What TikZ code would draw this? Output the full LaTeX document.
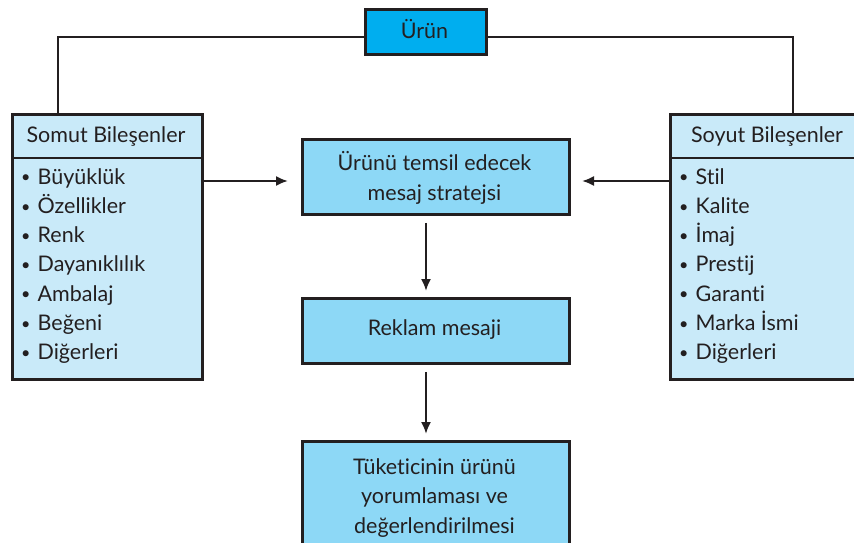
\documentclass[tikz,border=0pt]{standalone}
\usepackage{fontspec}
\setmainfont{Lato}[Ligatures={NoCommon,NoRare}]
\usetikzlibrary{arrows.meta,calc}
\definecolor{ink}{HTML}{231F20}
\definecolor{topc}{HTML}{00AEEF}
\definecolor{midc}{HTML}{8DD8F6}
\definecolor{sidec}{HTML}{C9EAF9}
\newcommand{\mybul}{\raisebox{0.12ex}{\scalebox{0.75}{•}}\hspace{0.33em}}
\tikzset{
  frame/.style={draw=ink, line width=2.8pt, rectangle, inner sep=0pt},
  conn/.style={draw=ink, line width=2pt},
  arr/.style={conn, -{Latex[length=12pt,width=10pt]}},
  txt/.style={font=\fontsize{21.5}{29.3}\selectfont, text=ink, inner sep=0pt},
}
\begin{document}
\begin{tikzpicture}[x=1pt,y=-1pt]
\useasboundingbox (0,0) rectangle (854,543);
% boxes
\node[frame, fill=topc, minimum width=121pt, minimum height=45pt, anchor=north west] (urun) at (364,8) {};
\node[txt, anchor=base] (urunt) at (424.5,39) {Ürün};
\node[frame, fill=sidec, minimum width=190pt, minimum height=265pt, anchor=north west] (somut) at (11,113) {};
\node[frame, fill=sidec, minimum width=190pt, minimum height=265pt, anchor=north west] (soyut) at (669,113) {};
\node[frame, fill=midc, minimum width=267pt, minimum height=75pt, anchor=north west] (strat) at (301,138) {};
\node[frame, fill=midc, minimum width=267pt, minimum height=65pt, anchor=north west] (reklam) at (301,297) {};
\node[frame, fill=midc, minimum width=267pt, minimum height=110pt, anchor=north west] (tuket) at (301,440) {};
% header dividers
\coordinate (sl) at (11,158); \coordinate (sr) at (201,158);
\coordinate (yl) at (669,158); \coordinate (yr) at (859,158);
\draw[ink, line width=2.8pt] (sl) -- (sr);
\draw[ink, line width=2.8pt] (yl) -- (yr);
% texts
\node[txt, anchor=base] (somh) at (106,142) {Somut Bileşenler};
\node[txt, anchor=base] (soyh) at (767,142) {Soyut Bileşenler};
\node[txt, anchor=north west, align=left] (soml) at (21,168) {\mybul Büyüklük\\\mybul Özellikler\\\mybul Renk\\\mybul Dayanıklılık\\\mybul Ambalaj\\\mybul Beğeni\\\mybul Diğerleri};
\node[txt, anchor=north west, align=left] (soyl) at (679,168) {\mybul Stil\\\mybul Kalite\\\mybul İmaj\\\mybul Prestij\\\mybul Garanti\\\mybul Marka İsmi\\\mybul Diğerleri};
\node[txt, align=center] (stratt) at (434.5,178) {Ürünü temsil edecek\\mesaj stratejsi};
\node[txt, align=center] (reklamt) at (434.5,330) {Reklam mesaji};
\node[txt, align=center] (tukett) at (434.5,498) {Tüketicinin ürünü\\yorumlaması ve\\değerlendirilmesi};
% connectors
\coordinate (lcorner) at (58,37);
\coordinate (rcorner) at (793,37);
\coordinate (ltop) at (58,113);
\coordinate (rtop) at (793,113);
\draw[conn] (urun.west |- lcorner) -- (lcorner) -- (ltop);
\draw[conn] (urun.east |- rcorner) -- (rcorner) -- (rtop);
\coordinate (la) at (201,181); \coordinate (lb) at (288,181);
\coordinate (ra) at (669,181); \coordinate (rb) at (582,181);
\draw[arr] (la) -- (lb);
\draw[arr] (ra) -- (rb);
\draw[arr, shorten <=7pt, shorten >=6pt] (strat.south -| 426,0) -- (reklam.north -| 426,0);
\draw[arr, shorten <=7pt, shorten >=6pt] (reklam.south -| 426,0) -- (tuket.north -| 426,0);
\end{tikzpicture}
\end{document}
